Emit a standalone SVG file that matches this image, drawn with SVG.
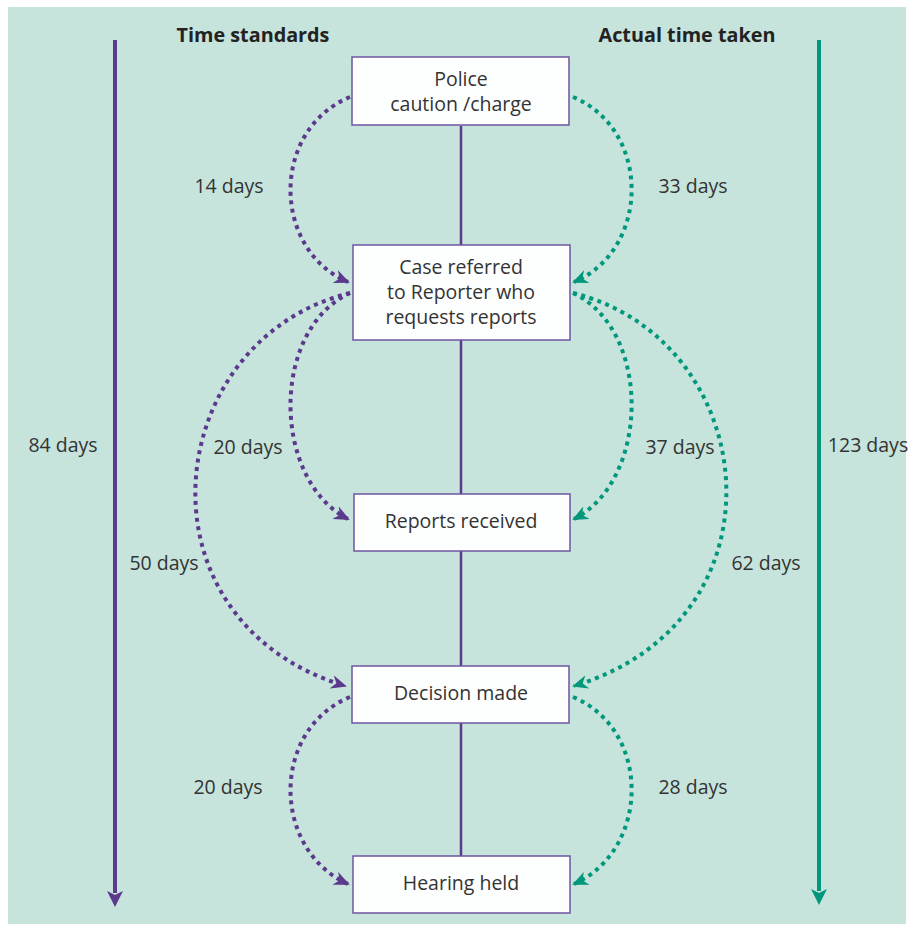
<svg xmlns="http://www.w3.org/2000/svg" width="909" height="931" viewBox="0 0 909 931">
<defs>
<style>
.bg{fill:#c6e3dc}
.box{fill:#fdfefe;stroke:#6e55a0;stroke-width:1.5}
.lbl{font-family:"Open Sans","Noto Sans","Liberation Sans",sans-serif;font-size:19.5px;fill:#333;text-anchor:middle}
.hd{font-family:"Open Sans","Noto Sans","Liberation Sans",sans-serif;font-size:19.8px;font-weight:bold;fill:#222;text-anchor:middle}
.dp{fill:none;stroke:#5b398d;stroke-width:4;stroke-dasharray:4 4.5}
.dg{fill:none;stroke:#00977a;stroke-width:4;stroke-dasharray:4 4.5}
.spine{stroke:#5b398d;stroke-width:2.5}
</style>
<marker id="ap" markerUnits="userSpaceOnUse" markerWidth="16" markerHeight="14" refX="14" refY="7" orient="auto"><path d="M0,0 L16,7 L0,14 L5,7 z" fill="#5b398d"/></marker>
<marker id="ag" markerUnits="userSpaceOnUse" markerWidth="16" markerHeight="14" refX="14" refY="7" orient="auto"><path d="M0,0 L16,7 L0,14 L5,7 z" fill="#00977a"/></marker>
<marker id="bp" markerUnits="userSpaceOnUse" markerWidth="18" markerHeight="18" refX="2" refY="9" orient="auto"><path d="M0,1 L16,9 L0,17 L4,9 z" fill="#5b398d"/></marker>
<marker id="bg" markerUnits="userSpaceOnUse" markerWidth="18" markerHeight="18" refX="2" refY="9" orient="auto"><path d="M0,1 L16,9 L0,17 L4,9 z" fill="#00977a"/></marker>
</defs>
<rect class="bg" x="8" y="7" width="898" height="917"/>

<g id="axes">
<line x1="115" y1="40" x2="115" y2="893" stroke="#5b398d" stroke-width="4" marker-end="url(#bp)"/>
<line x1="819" y1="40" x2="819" y2="891" stroke="#00977a" stroke-width="4" marker-end="url(#bg)"/>
<text class="hd" x="253" y="42">Time standards</text>
<text class="hd" x="687" y="42">Actual time taken</text>
<text class="lbl" x="63" y="452">84 days</text>
<text class="lbl" x="868" y="452">123 days</text>
</g>

<g id="connectors">
<line class="spine" x1="461" y1="126" x2="461" y2="856"/>
<path class="dp" d="M350,97 C270,130 272,250 348,282" marker-end="url(#ap)"/>
<path class="dg" d="M573,97 C652,130 650,250 574,282" marker-end="url(#ag)"/>
<path class="dp" d="M350,293 C270,330 272,480 348,519" marker-end="url(#ap)"/>
<path class="dp" d="M350,293 C160,340 130,620 345,686" marker-end="url(#ap)"/>
<path class="dg" d="M573,293 C652,330 650,480 574,519" marker-end="url(#ag)"/>
<path class="dg" d="M573,293 C762,340 792,620 574,686" marker-end="url(#ag)"/>
<path class="dp" d="M350,697 C270,730 272,850 348,884" marker-end="url(#ap)"/>
<path class="dg" d="M573,697 C652,730 650,850 574,884" marker-end="url(#ag)"/>
<text class="lbl" x="229" y="193">14 days</text>
<text class="lbl" x="693" y="193">33 days</text>
<text class="lbl" x="248" y="454">20 days</text>
<text class="lbl" x="680" y="454">37 days</text>
<text class="lbl" x="164" y="570">50 days</text>
<text class="lbl" x="766" y="570">62 days</text>
<text class="lbl" x="228" y="794">20 days</text>
<text class="lbl" x="693" y="794">28 days</text>
</g>

<g id="police">
<rect class="box" x="352" y="57" width="217" height="68"/>
<text class="lbl" x="461" y="86">Police</text>
<text class="lbl" x="461" y="111">caution /charge</text>
</g>
<g id="case">
<rect class="box" x="353" y="245" width="217" height="95"/>
<text class="lbl" x="461" y="274">Case referred</text>
<text class="lbl" x="461" y="299">to Reporter who</text>
<text class="lbl" x="461" y="324">requests reports</text>
</g>
<g id="reports">
<rect class="box" x="354" y="494" width="216" height="57"/>
<text class="lbl" x="461" y="528">Reports received</text>
</g>
<g id="decision">
<rect class="box" x="352" y="666" width="217" height="57"/>
<text class="lbl" x="461" y="700">Decision made</text>
</g>
<g id="hearing">
<rect class="box" x="353" y="856" width="217" height="57"/>
<text class="lbl" x="461" y="890">Hearing held</text>
</g>
</svg>
